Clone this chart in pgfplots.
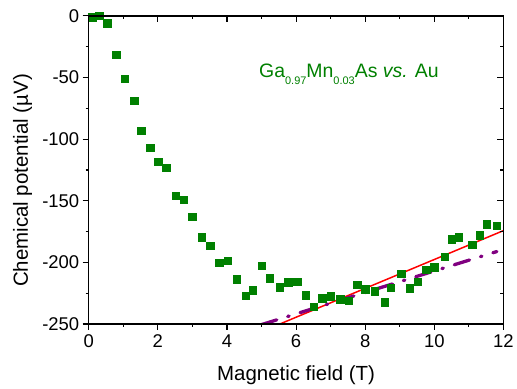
\documentclass[border=0pt]{standalone}
\usepackage{pgfplots}
\pgfplotsset{compat=1.18}
\usepackage{fontspec}
\setmainfont{Liberation Sans}
\definecolor{mgreen}{RGB}{0,128,0}
\definecolor{mpurple}{RGB}{128,0,128}
\begin{document}
\begin{tikzpicture}
\pgfplotsset{
  common/.style={
    at={(0,0)}, anchor=south west,
    scale only axis, width=416pt, height=309pt,
    xmin=0, xmax=12, ymin=-250, ymax=0,
    xtick={0,2,...,12}, ytick={-250,-200,...,0},
    minor xtick={1,3,...,11}, minor ytick={-225,-175,...,-25},
    major tick length=6pt, minor tick length=3pt,
    every tick/.style={black, line width=1.1pt},
    axis line style={line width=1.3pt},
    /pgf/number format/assume math mode=true,
    ticklabel style={font=\fontsize{18.5}{20}\selectfont},
  }
}
\begin{axis}[common,
  xtick pos=left, ytick pos=left, tick align=outside,
  xlabel={Magnetic field (T)}, ylabel={Chemical potential (µV)},
  label style={font=\fontsize{20.5}{22}\selectfont},
  xlabel style={at={(axis description cs:0.5,-0.1835)}, anchor=base},
  ylabel style={at={(axis description cs:-0.147,0.466)}, anchor=base},
  xticklabel style={yshift=-1.5pt},
  yticklabel style={xshift=0pt},
]
\addplot[only marks, mark=square*, mark size=3.7pt, mgreen] coordinates {
(0.1,-1) (0.3,0) (0.53,-5.9) (0.80,-31.3) (1.05,-50.7) (1.32,-68.8) (1.52,-93)
(1.78,-106.8) (2.01,-118.4) (2.24,-123.2) (2.52,-145.9) (2.74,-149.1) (2.99,-162.9)
(3.27,-179.6) (3.51,-186.4) (3.78,-200.1) (4.03,-198.5) (4.28,-213.6) (4.54,-226.8)
(4.75,-222.5) (5.00,-202.8) (5.23,-212.8) (5.53,-220.1) (5.77,-216) (6.03,-215.5)
(6.28,-226.5) (6.51,-236) (6.76,-229.2) (7.01,-227.6) (7.28,-230) (7.52,-231.1)
(7.77,-218.2) (8.00,-221.9) (8.28,-223.3) (8.57,-232.2) (8.73,-220.3) (9.04,-209)
(9.29,-221.1) (9.52,-215.5) (9.77,-206.1) (10.00,-203.9) (10.30,-195.6) (10.51,-181.2)
(10.71,-179.6) (11.10,-185.5) (11.31,-178) (11.51,-169.1) (11.81,-170.1) (12.02,-154.8)
};
\addplot[red, line width=1.5pt] coordinates {(5.49,-250.5) (12.02,-174)};
\addplot[mpurple, line width=3.3pt, line cap=round, dash pattern=on 16pt off 11.5pt on 1.5pt off 11.5pt] coordinates {(5.0,-250.5) (11.81,-191.2)};
\node[anchor=base, text=mgreen, font=\fontsize{19.5}{21}\selectfont] at (axis cs:7.53,-50)
 {Ga\raisebox{-7pt}{\fontsize{11}{12}\selectfont 0.97}Mn\raisebox{-7pt}{\fontsize{11}{12}\selectfont 0.03}As \textit{vs.} Au};
\end{axis}
\begin{axis}[common,
  xtick pos=right, ytick pos=right, tick align=inside,
  xticklabels={}, yticklabels={},
]
\end{axis}
\path[use as bounding box] (-89pt,-61pt) rectangle (428pt,325pt);
\end{tikzpicture}
\end{document}
